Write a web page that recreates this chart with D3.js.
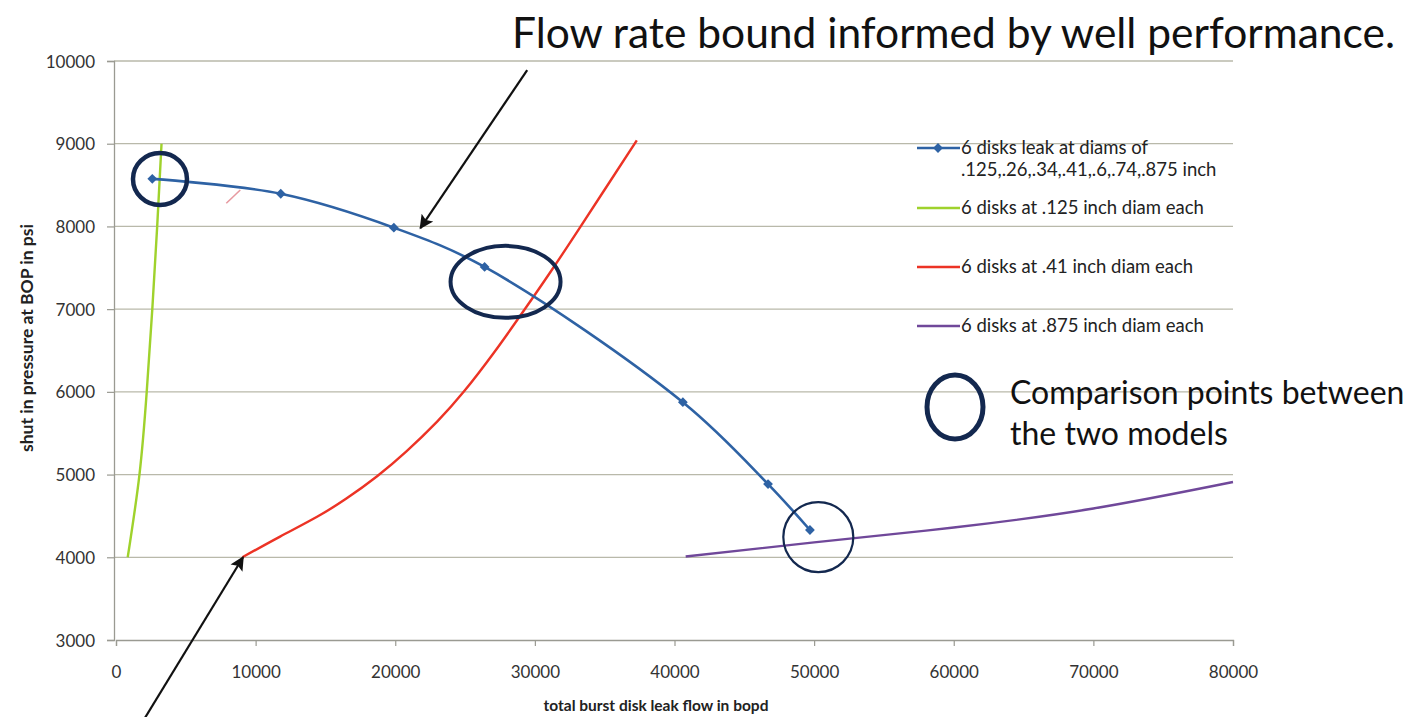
<!DOCTYPE html>
<html>
<head>
<meta charset="utf-8">
<script src="https://cdn.jsdelivr.net/npm/d3@7"></script>
<style>
  html, body { margin: 0; padding: 0; background: #fff; }
  svg { display: block; font-family: Lato, "Open Sans", sans-serif; }
</style>
</head>
<body>
<svg id="chart" width="1415" height="717"></svg>
<script>
const xTicks = [0, 10000, 20000, 30000, 40000, 50000, 60000, 70000, 80000]
const yTicks = [3000, 4000, 5000, 6000, 7000, 8000, 9000, 10000]

// blue: measured leak points (markers)
const leakFlow = [2600, 11800, 19900, 26400, 40600, 46700, 49700]
const leakPsi = [8575, 8395, 7985, 7510, 5875, 4885, 4330]

// green: .125 inch
const smallFlow = [840, 1680, 2200, 2600, 2950, 3260]
const smallPsi = [4000, 5000, 6000, 7000, 8000, 9000]

// red: .41 inch
const midFlow = [9050, 11750, 14400, 16500, 18700, 20800, 23000, 24900, 27050, 29200, 31200, 33200, 35250, 37300]
const midPsi = [4000, 4250, 4490, 4710, 4980, 5280, 5640, 6000, 6470, 6980, 7470, 7980, 8510, 9040]

// purple: .875 inch
const bigFlow = [40800, 50000, 60000, 70000, 80000]
const bigPsi = [4010, 4180, 4360, 4590, 4910]

const legendLabels = [
    ['6 disks leak at diams of', '.125,.26,.34,.41,.6,.74,.875 inch'],
    ['6 disks at .125 inch diam each'],
    ['6 disks at .41 inch diam each'],
    ['6 disks at .875 inch diam each']
]

const blue = '#2e62a4'
const green = '#9fd22c'
const red = '#ec3325'
const purple = '#70489a'
const navy = '#13284f'
const grid = '#b9b9aa'

const svg = d3.select('#chart')
const x = d3.scaleLinear().domain([0, 80000]).range([116, 1233])
const y = d3.scaleLinear().domain([3000, 10000]).range([640, 61])

const zip = (a, b) => a.map((v, i) => [v, b[i]])

// gridlines
svg.append('g').selectAll('line.grid')
    .data(yTicks.slice(1))
    .enter()
    .append('line')
    .classed('grid', true)
    .attr('x1', x(0) - 2)
    .attr('x2', x(80000))
    .attr('y1', d => y(d))
    .attr('y2', d => y(d))
    .attr('stroke', grid)
    .attr('stroke-width', 1.3)

// axes
const xAxis = svg.append('g')
    .attr('transform', `translate(0 ${y(3000)})`)
    .call(d3.axisBottom(x).tickValues(xTicks).tickSize(6).tickPadding(20).tickFormat(d3.format('d')))
const yAxis = svg.append('g')
    .attr('transform', `translate(${x(0) - 2} 0)`)
    .call(d3.axisLeft(y).tickValues(yTicks).tickSize(7).tickPadding(12).tickFormat(d3.format('d')))

for (const ax of [xAxis, yAxis]) {
    ax.select('.domain').attr('stroke', '#9a9a92').attr('stroke-width', 1.3)
    ax.selectAll('.tick line').attr('stroke', '#9a9a92').attr('stroke-width', 1.2)
    ax.selectAll('.tick text')
        .attr('fill', '#333')
        .style('font-family', 'Lato, sans-serif')
        .style('font-size', '17px')
}
yAxis.selectAll('.tick text').attr('dy', '0.36em')

// axis titles
svg.append('text')
    .attr('x', 656)
    .attr('y', 711)
    .attr('text-anchor', 'middle')
    .attr('font-weight', 'bold')
    .attr('font-size', 15.5)
    .attr('fill', '#222')
    .text('total burst disk leak flow in bopd')

svg.append('text')
    .attr('transform', `translate(33 338) rotate(-90)`)
    .attr('text-anchor', 'middle')
    .attr('font-weight', 'bold')
    .attr('font-size', 17.5)
    .attr('fill', '#222')
    .text('shut in pressure at BOP in psi')

// series
const lineWith = curve => d3.line()
    .x(d => x(d[0]))
    .y(d => y(d[1]))
    .curve(curve)

const series = [
    { pts: zip(smallFlow, smallPsi), color: green, w: 2.4, curve: d3.curveNatural },
    { pts: zip(midFlow, midPsi), color: red, w: 2.4, curve: d3.curveNatural },
    { pts: zip(bigFlow, bigPsi), color: purple, w: 2.4, curve: d3.curveNatural },
    { pts: zip(leakFlow, leakPsi), color: blue, w: 2.6, curve: d3.curveCatmullRom.alpha(0.5) }
]

svg.append('g').selectAll('path.series')
    .data(series)
    .enter()
    .append('path')
    .classed('series', true)
    .attr('d', d => lineWith(d.curve)(d.pts))
    .attr('fill', 'none')
    .attr('stroke', d => d.color)
    .attr('stroke-width', d => d.w)

const diamond = d3.symbol().type(d3.symbolSquare).size(48)
svg.append('g').selectAll('path.marker')
    .data(zip(leakFlow, leakPsi))
    .enter()
    .append('path')
    .classed('marker', true)
    .attr('d', diamond)
    .attr('transform', d => `translate(${x(d[0])} ${y(d[1])}) rotate(45)`)
    .attr('fill', blue)

// stray pen mark
svg.append('line')
    .attr('x1', x(7900)).attr('y1', y(8280))
    .attr('x2', x(8900)).attr('y2', y(8440))
    .attr('stroke', '#e79aa0')
    .attr('stroke-width', 1.6)

// comparison ellipses (center in data units, radii in px)
const ellipses = [
    { cx: 3150, cy: 8573, rx: 27, ry: 26, w: 4.5 },
    { cx: 27900, cy: 7330, rx: 55, ry: 36, w: 4 },
    { cx: 50300, cy: 4244, rx: 35, ry: 35, w: 2.2 }
]
svg.append('g').selectAll('ellipse')
    .data(ellipses)
    .enter()
    .append('ellipse')
    .attr('cx', d => x(d.cx))
    .attr('cy', d => y(d.cy))
    .attr('rx', d => d.rx)
    .attr('ry', d => d.ry)
    .attr('fill', 'none')
    .attr('stroke', navy)
    .attr('stroke-width', d => d.w)

// arrows
svg.append('defs').append('marker')
    .attr('id', 'head')
    .attr('viewBox', '0 0 10 10')
    .attr('refX', 9)
    .attr('refY', 5)
    .attr('markerWidth', 17)
    .attr('markerHeight', 14)
    .attr('markerUnits', 'userSpaceOnUse')
    .attr('orient', 'auto')
    .append('path')
    .attr('d', 'M0,0 L10,5 L0,10 L2,5 Z')
    .attr('fill', '#111')

const arrows = [
    { from: [29450, 9890], to: [21800, 7980] },
    { from: [2080, 2060], to: [9100, 4000] }
]
svg.append('g').selectAll('line.arrow')
    .data(arrows)
    .enter()
    .append('line')
    .classed('arrow', true)
    .attr('x1', d => x(d.from[0]))
    .attr('y1', d => y(d.from[1]))
    .attr('x2', d => x(d.to[0]))
    .attr('y2', d => y(d.to[1]))
    .attr('stroke', '#111')
    .attr('stroke-width', 2.2)
    .attr('marker-end', 'url(#head)')

// legend
const legendColors = [blue, green, red, purple]
const legendY = [148, 208, 267, 326]
const lg = svg.append('g')
legendLabels.forEach((lines, i) => {
    lg.append('line')
        .attr('x1', 917).attr('x2', 960)
        .attr('y1', legendY[i]).attr('y2', legendY[i])
        .attr('stroke', legendColors[i])
        .attr('stroke-width', 2.6)
    if (i === 0) {
        lg.append('path')
            .attr('d', diamond)
            .attr('transform', `translate(938 ${legendY[i]}) rotate(45)`)
            .attr('fill', blue)
    }
    lines.forEach((t, j) => {
        lg.append('text')
            .attr('x', 961)
            .attr('y', legendY[i] + 6 + j * 22)
            .attr('font-size', 18.5)
            .attr('fill', '#222')
            .text(t)
    })
})

// title and annotation
svg.append('text')
    .attr('x', 512)
    .attr('y', 48)
    .attr('font-size', 42.5)
    .attr('fill', '#111')
    .text('Flow rate bound informed by well performance.')

svg.append('ellipse')
    .attr('cx', 955).attr('cy', 407)
    .attr('rx', 28).attr('ry', 32)
    .attr('fill', 'none')
    .attr('stroke', navy)
    .attr('stroke-width', 5)

const note = svg.append('text')
    .attr('font-size', 32)
    .attr('fill', '#111')
note.append('tspan').attr('x', 1010).attr('y', 404).text('Comparison points between')
note.append('tspan').attr('x', 1010).attr('y', 445).text('the two models')
</script>
</body>
</html>
